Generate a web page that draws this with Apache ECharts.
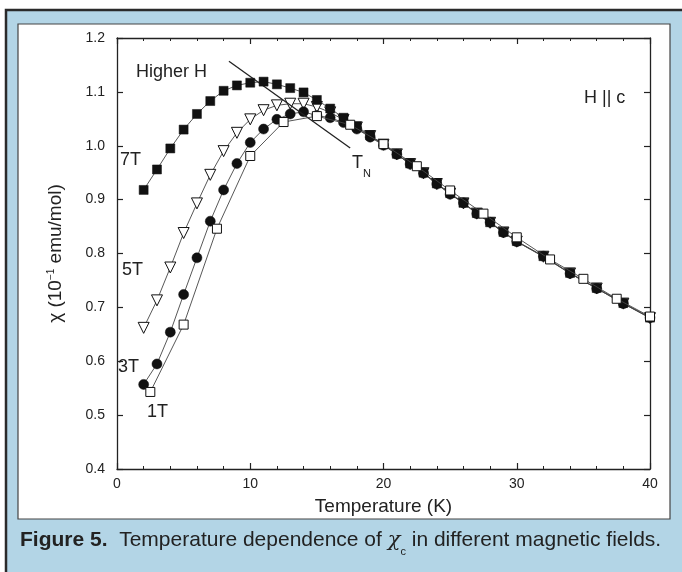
<!DOCTYPE html>
<html>
<head>
<meta charset="utf-8">
<script src="https://cdn.jsdelivr.net/npm/echarts@6/dist/echarts.min.js"></script>
<style>
html,body{margin:0;padding:0;background:#fff;}
#chart{width:682px;height:572px;}
</style>
</head>
<body>
<div id="chart"></div>
<script>
// ---- data (temperature in K, chi in 10^-1 emu/mol) ----
const temps7T = [2,3,4,5,6,7,8,9,10,11,12,13,14,15,16,17,18,19,20,21,22,23,24,25,26,27,28,29,30,32,34,36,38,40];
const chi7T   = [0.918,0.956,0.995,1.030,1.059,1.083,1.102,1.112,1.117,1.119,1.114,1.107,1.099,1.085,1.069,1.052,1.036,1.019,1.003,0.985,0.967,0.950,0.930,0.912,0.894,0.875,0.858,0.840,0.823,0.795,0.764,0.736,0.708,0.681];

const temps5T = [2,3,4,5,6,7,8,9,10,11,12,13,14,15,16,17,18,19,20,21,22,23,24,25,26,27,28,29,30,32,34,36,38,40];
const chi5T   = [0.662,0.713,0.774,0.838,0.893,0.946,0.990,1.024,1.049,1.066,1.075,1.078,1.078,1.072,1.062,1.048,1.034,1.018,1.002,0.984,0.966,0.949,0.929,0.911,0.893,0.874,0.857,0.839,0.822,0.794,0.763,0.735,0.707,0.680];

const temps3T = [2,3,4,5,6,7,8,9,10,11,12,13,14,15,16,17,18,19,20,21,22,23,24,25,26,27,28,29,30,32,34,36,38,40];
const chi3T   = [0.557,0.595,0.654,0.724,0.792,0.860,0.918,0.967,1.006,1.031,1.049,1.059,1.063,1.056,1.052,1.043,1.031,1.016,1.001,0.984,0.966,0.949,0.929,0.910,0.894,0.874,0.858,0.839,0.822,0.795,0.763,0.735,0.707,0.681];

const temps1T = [2.5,5,7.5,10,12.5,15,17.5,20,22.5,25,27.5,30,32.5,35,37.5,40];
const chi1T   = [0.543,0.668,0.846,0.981,1.044,1.055,1.039,1.003,0.962,0.917,0.874,0.830,0.789,0.753,0.716,0.683];

const xTicks = [0,10,20,30,40];
const yTicks = [0.4,0.5,0.6,0.7,0.8,0.9,1.0,1.1,1.2];
const fieldLabels = ['7T','5T','3T','1T'];

// arrow annotation ("Higher H" direction), in data coordinates
const arrowFrom = [17.5, 0.996];
const arrowTo   = [8.4, 1.157];

const pairs = (xs, ys) => xs.map((x, i) => [x, ys[i]]);

const FONT = '"Liberation Sans", Arial, Helvetica, sans-serif';
const INK = '#222';
const BLUE = '#b3d5e6';

const chart = echarts.init(document.getElementById('chart'), null, {renderer: 'canvas'});

const lineStyle = {color: '#444', width: 0.9};

function axisCommon(show) {
  return {
    type: 'value',
    axisLine: {show: true, onZero: false, lineStyle: {color: INK, width: 1.3}},
    axisTick: {show: true, inside: true, length: 6, lineStyle: {color: INK, width: 1.2}},
    splitLine: {show: false},
    axisLabel: {show: show, color: INK, fontFamily: FONT, fontSize: 14}
  };
}

const option = {
  backgroundColor: '#fff',
  animation: false,
  grid: {left: 117, right: 32, top: 38, bottom: 103, containLabel: false},
  xAxis: [
    Object.assign(axisCommon(true), {
      position: 'bottom', min: xTicks[0], max: xTicks[xTicks.length - 1], interval: 10,
      minorTick: {show: true, splitNumber: 5, length: 3, lineStyle: {color: INK, width: 1}},
      axisLabel: {show: true, color: INK, fontFamily: FONT, fontSize: 14, margin: 8},
      name: 'Temperature (K)', nameLocation: 'middle', nameGap: 28,
      nameTextStyle: {color: INK, fontFamily: FONT, fontSize: 19}
    }),
    Object.assign(axisCommon(false), {
      position: 'top', min: xTicks[0], max: xTicks[xTicks.length - 1], interval: 10,
      minorTick: {show: true, splitNumber: 5, length: 3, lineStyle: {color: INK, width: 1}}
    })
  ],
  yAxis: [
    Object.assign(axisCommon(true), {
      position: 'left', min: yTicks[0], max: yTicks[yTicks.length - 1], interval: 0.1,
      axisLabel: {show: true, color: INK, fontFamily: FONT, fontSize: 14, margin: 12,
        formatter: v => v.toFixed(1)},
      name: 'χ (10{sup|−1} emu/mol)', nameLocation: 'middle', nameGap: 52, nameRotate: 90,
      nameTextStyle: {color: INK, fontFamily: FONT, fontSize: 19,
        rich: {sup: {fontSize: 10, color: INK, fontFamily: FONT, verticalAlign: 'top', lineHeight: 16}}}
    }),
    Object.assign(axisCommon(false), {
      position: 'right', min: yTicks[0], max: yTicks[yTicks.length - 1], interval: 0.1
    })
  ],
  series: [
    {
      name: '5T', type: 'line', data: pairs(temps5T, chi5T),
      symbol: 'triangle', symbolRotate: 180, symbolSize: 11,
      itemStyle: {color: '#fff', borderColor: '#111', borderWidth: 1},
      lineStyle: lineStyle, z: 3
    },
    {
      name: '3T', type: 'line', data: pairs(temps3T, chi3T),
      symbol: 'circle', symbolSize: 10,
      itemStyle: {color: '#111', borderColor: '#111', borderWidth: 0.5},
      lineStyle: lineStyle, z: 4
    },
    {
      name: '7T', type: 'line', data: pairs(temps7T, chi7T),
      symbol: 'rect', symbolSize: 9,
      itemStyle: {color: '#111', borderColor: '#111', borderWidth: 0.5},
      lineStyle: lineStyle, z: 5,
      markLine: {
        silent: true, animation: false,
        symbol: ['none', 'arrow'], symbolSize: [0, 9],
        lineStyle: {color: INK, width: 1.3, type: 'solid'},
        label: {show: false},
        data: [[{coord: arrowFrom}, {coord: arrowTo}]]
      }
    },
    {
      name: '1T', type: 'line', data: pairs(temps1T, chi1T),
      symbol: 'rect', symbolSize: 9,
      itemStyle: {color: '#fff', borderColor: '#111', borderWidth: 1},
      lineStyle: lineStyle, z: 6
    }
  ],
  graphic: [
    {type: 'rect', z: -100, silent: true, shape: {x: 6, y: 10, width: 690, height: 580},
      style: {fill: BLUE, stroke: '#2a2a2a', lineWidth: 2.5}},
    {type: 'rect', z: -90, silent: true, shape: {x: 18, y: 24, width: 652, height: 495},
      style: {fill: '#fff', stroke: '#444', lineWidth: 1.2}},
    {type: 'text', z: 100, left: 136, top: 63,
      style: {text: 'Higher H', fill: INK, font: '18px ' + FONT}},
    {type: 'text', z: 100, left: 584, top: 89,
      style: {text: 'H || c', fill: INK, font: '18px ' + FONT}},
    {type: 'text', z: 100, left: 352, top: 154,
      style: {text: 'T{sub|N}', fill: INK, font: '18px ' + FONT,
        rich: {sub: {fontSize: 11, fontFamily: FONT, fill: INK, verticalAlign: 'bottom', lineHeight: 32}}}},
    {type: 'text', z: 100, left: 120, top: 151,
      style: {text: fieldLabels[0], fill: INK, font: '18px ' + FONT}},
    {type: 'text', z: 100, left: 122, top: 261,
      style: {text: fieldLabels[1], fill: INK, font: '18px ' + FONT}},
    {type: 'text', z: 100, left: 118, top: 358,
      style: {text: fieldLabels[2], fill: INK, font: '18px ' + FONT}},
    {type: 'text', z: 100, left: 147, top: 403,
      style: {text: fieldLabels[3], fill: INK, font: '18px ' + FONT}},
    {type: 'text', z: 100, left: 20, top: 530,
      style: {
        text: '{b|Figure 5.}  Temperature dependence of {i|χ}{sub|c} in different magnetic fields.',
        fill: INK, font: '21px ' + FONT,
        rich: {
          b: {fontWeight: 'bold', fontSize: 21, fontFamily: FONT, fill: INK},
          i: {fontStyle: 'italic', fontSize: 21, fontFamily: 'DejaVu Serif, serif', fill: INK},
          sub: {fontSize: 11, fontFamily: FONT, fill: INK, verticalAlign: 'bottom', lineHeight: 34}
        }
      }}
  ]
};

chart.setOption(option);
</script>
</body>
</html>
